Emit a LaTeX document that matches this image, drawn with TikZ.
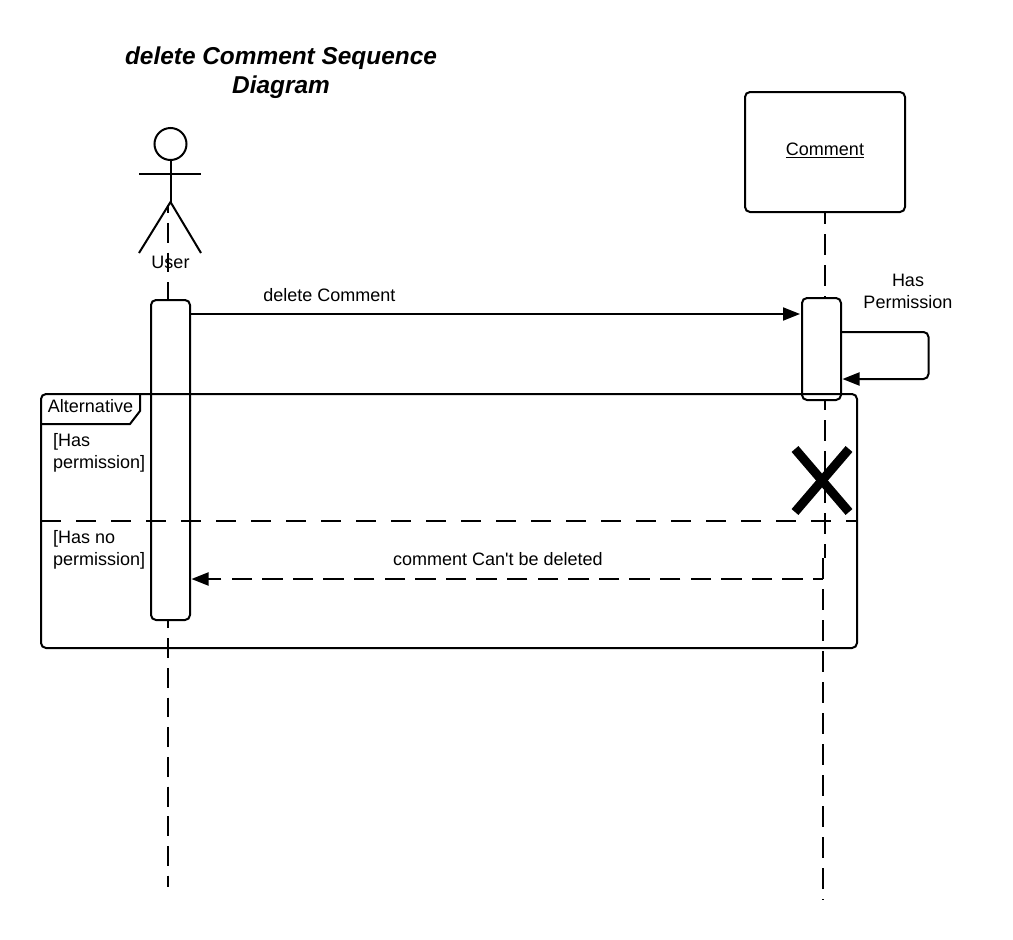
\documentclass[tikz,border=0pt]{standalone}
\usepackage{fontspec}
\setmainfont[Ligatures=TeXOff]{Liberation Sans}
\usetikzlibrary{arrows.meta,calc}
\tikzset{
  ln/.style={draw=black,line width=2pt},
  ulifeline/.style={ln,dash pattern=on 19.8pt off 9.87pt,dash phase=11.7pt},
  clifeline/.style={ln,dash pattern=on 20.7pt off 10.3pt,dash phase=9.7pt},
  clifelinelow/.style={ln,dash pattern=on 20.7pt off 10.3pt},
  divider/.style={ln,dash pattern=on 20pt off 15pt},
  retline/.style={ln,dash pattern=on 20.4pt off 10.2pt,dash phase=10.4pt},
  activation/.style={ln,fill=white,rounded corners=5pt,minimum width=39pt,inner sep=0pt},
  lbl/.style={font=\fontsize{18}{22}\selectfont,inner sep=0pt,align=center,text=black},
  leftlbl/.style={lbl,align=left,anchor=west},
  tip/.style={-{Triangle[length=17pt,width=13pt]}},
}
\begin{document}
\begin{tikzpicture}[x=1pt,y=-1pt]
\useasboundingbox (0,0) rectangle (1013,940);
% title
\node[lbl,font=\fontsize{24.4}{29}\selectfont\bfseries\itshape] (title) at (281,73) {delete Comment Sequence\\Diagram};
% comment object
\node[ln,rounded corners=5pt,minimum width=160pt,minimum height=120pt,inner sep=0pt] (cbox) at (825,152) {};
\node[lbl] (clabel) at (825,150) {\underline{Comment}};
% lifelines
\coordinate (ustart) at (167.7,205);
\coordinate (uend) at (167.7,887);
\coordinate (cjog) at (824.7,558);
\coordinate (cjog2) at (823,558);
\coordinate (cend) at (823,900);
\draw[ulifeline] (ustart) -- (uend);
\draw[clifeline] (cbox.south -| cjog) -- (cjog);
\draw[clifelinelow] (cjog2) -- (cend);
% activations
\node[activation,minimum height=320pt] (ua) at (170.5,460) {};
\node[activation,minimum height=102pt] (ca) at (821.5,349) {};
% actor
\node[ln,circle,minimum size=32pt,inner sep=0pt] (head) at (170.5,144) {};
\coordinate (hip) at (170.5,202);
\coordinate (armL) at (139,174);
\coordinate (armR) at (201,174);
\coordinate (legL) at (139,253);
\coordinate (legR) at (201,253);
\draw[ln] (head.south) -- (hip);
\draw[ln] (armL) -- (armR);
\draw[ln] (legL) -- (hip) -- (legR);
\node[lbl] (user) at (170.5,262) {User};
% frame
\draw[ln,rounded corners=5pt] (41,394) rectangle (857,648);
\coordinate (frameL) at (41,521);
\coordinate (frameR) at (857,521);
\draw[divider] (frameL) -- (frameR);
\draw[ln] (140,394) -- (140,411) -- (130,424) -- (41,424);
\node[lbl] (alt) at (90.5,406) {Alternative};
\node[leftlbl] (g1) at (53,453) {[Has\\permission]};
\node[leftlbl] (g2) at (53,550) {[Has no\\permission]};
% messages
\draw[ln,tip] (ua.east |- 0,314) -- ($(ca.west |- 0,314)+(-1,0)$);
\node[lbl] (m1) at (329.5,295) {delete Comment};
\draw[ln,tip,rounded corners=5pt] (ca.east |- 0,332) -- (928.5,332) -- (928.5,379) -- ($(ca.east |- 0,379)+(0.5,0)$);
\node[lbl] (m2) at (908,291) {Has\\Permission};
\coordinate (retstart) at (823,579);
\draw[retline,tip] (retstart) -- ($(ua.east |- retstart)+(0.5,0)$);
\node[lbl] (m3) at (498,559) {comment Can't be deleted};
% destroy mark
\draw[line width=9pt] (795,449) -- (849,512);
\draw[line width=9pt] (849,449) -- (795,512);
\end{tikzpicture}
\end{document}
